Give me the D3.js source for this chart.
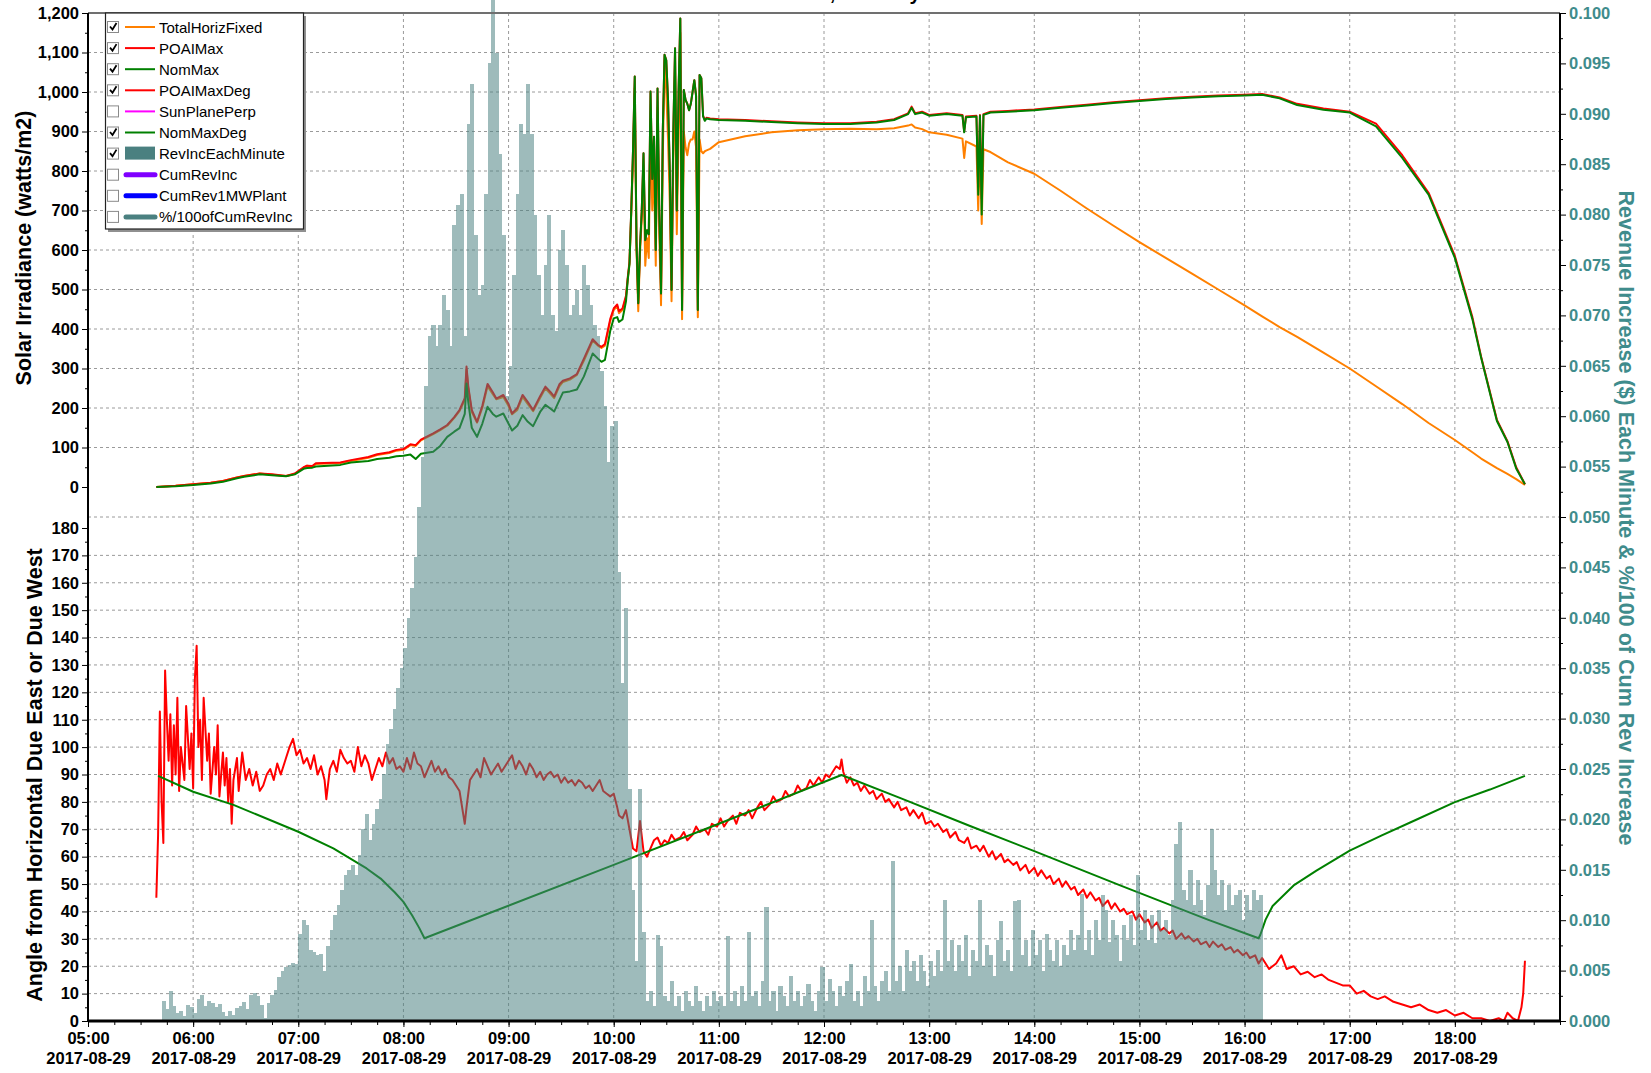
<!DOCTYPE html>
<html>
<head>
<meta charset="utf-8">
<script src="https://cdn.jsdelivr.net/npm/d3@7"></script>
<style>
  body { margin: 0; background: #fff; }
  svg text { font-family: "Liberation Sans", Arial, sans-serif; }
</style>
</head>
<body>
<svg id="chart" width="1651" height="1073"></svg>
<script>
var day = "2017-08-29";

// top panel, irradiance (watts/m2)
var irrTimes = ["05:39","05:50","06:00","06:10","06:17","06:25","06:29","06:38","06:45","06:53",
  "06:58","07:03","07:05","07:08","07:10","07:24","07:30","07:40","07:45","07:52",
  "07:56","08:00","08:04","08:07","08:10","08:17","08:21","08:25","08:29","08:32",
  "08:35","08:36","08:37","08:39","08:42","08:45","08:48","08:51","08:53","08:57",
  "09:00","09:02","09:05","09:08","09:11","09:14","09:18","09:21","09:24","09:26",
  "09:29","09:31","09:35","09:39","09:43","09:48","09:51","09:53","09:55","09:58",
  "10:00","10:02","10:03","10:05","10:07","10:08","10:09","10:10","10:11","10:12",
  "10:13","10:14","10:15","10:16","10:17","10:18","10:19","10:20","10:21","10:22",
  "10:23","10:24","10:25","10:26","10:27","10:28","10:29","10:30","10:31","10:32",
  "10:33","10:34","10:35","10:36","10:37","10:38","10:39","10:40","10:41","10:42",
  "10:43","10:44","10:45","10:46","10:47","10:48","10:49","10:50","10:51","10:52",
  "10:53","10:55","11:00","11:15","11:30","11:45","12:00","12:15","12:30","12:40",
  "12:48","12:50","12:52","12:56","13:00","13:10","13:19","13:20","13:21","13:27",
  "13:28","13:29","13:30","13:31","13:35","13:45","14:00","14:15","14:30","14:45",
  "15:00","15:15","15:30","15:45","16:00","16:10","16:20","16:30","16:45","17:00",
  "17:15","17:30","17:45","18:00","18:10","18:15","18:24","18:30","18:35","18:40"];

var totalHorizFixed = [0,3,7,11,15,24,28,34,31,28,
  33,48,54,52,58,61,66,74,81,86,
  92,94,106,104,118,134,144,155,175,192,
  220,298,250,190,163,200,255,235,222,228,
  205,184,195,228,210,192,225,250,235,225,
  255,266,272,284,320,370,358,352,358,420,
  448,458,440,448,480,525,565,690,820,1010,
  600,445,590,680,790,560,630,580,930,700,
  800,560,960,640,460,830,1080,1000,880,720,
  470,820,1050,640,880,1150,425,900,860,840,
  870,880,880,900,860,430,880,850,845,850,
  852,856,873,888,898,903,906,907,906,908,
  915,918,910,906,898,892,882,833,875,862,
  700,858,666,855,848,822,793,750,705,662,
  620,580,540,500,460,432,405,380,340,300,
  255,210,162,119,88,72,48,33,20,5];

var poaiMax = [0,3,7,11,15,24,28,34,32,28,
  34,50,54,53,60,62,68,76,83,88,
  94,96,108,106,120,136,146,157,177,195,
  225,305,255,195,165,205,261,240,224,233,
  210,186,200,233,215,195,230,254,240,229,
  260,269,275,286,325,374,360,355,362,425,
  452,462,445,452,484,530,570,700,850,1039,
  620,465,608,700,845,625,650,640,1001,780,
  887,600,1009,700,490,900,1094,1080,980,800,
  499,900,1111,700,1000,1186,448,1005,980,970,
  954,970,1000,1030,990,448,1043,1035,940,929,
  935,933,931,929,926,923,921,921,925,931,
  946,963,946,950,942,946,942,900,938,940,
  760,942,730,944,950,952,956,962,968,974,
  979,984,988,991,993,995,986,970,958,950,
  920,840,745,585,430,330,170,116,50,7];

var nomMax = [0,2,5,9,13,22,26,32,30,27,
  32,46,48,49,52,56,62,66,71,74,
  78,79,82,71,84,89,104,127,140,149,
  185,262,215,150,127,160,203,185,178,186,
  160,143,155,182,165,154,190,208,198,191,
  220,239,242,247,280,338,325,317,322,395,
  427,430,418,424,470,525,565,700,850,1039,
  620,465,608,700,845,625,650,640,1001,780,
  887,600,1009,700,490,900,1094,1080,980,800,
  499,900,1111,700,1000,1186,448,1005,980,970,
  954,970,1000,1030,990,448,1043,1035,938,927,
  933,931,929,927,924,921,919,919,923,929,
  944,960,944,948,940,944,940,898,936,938,
  740,940,690,942,948,950,954,960,966,972,
  977,982,986,989,991,993,984,967,955,948,
  913,833,740,580,425,327,167,114,47,7];

// bottom panel, angle (degrees)
var degTimes = ["05:39","05:40","05:41","05:42","05:43","05:44","05:45","05:46","05:47","05:48",
  "05:49","05:50","05:51","05:52","05:53","05:55","05:56","05:58","05:59","06:00",
  "06:01","06:02","06:03","06:04","06:05","06:06","06:08","06:09","06:10","06:12",
  "06:13","06:14","06:15","06:17","06:18","06:19","06:20","06:21","06:22","06:23",
  "06:25","06:26","06:28","06:30","06:32","06:34","06:36","06:38","06:40","06:42",
  "06:44","06:46","06:48","06:50","06:53","06:55","06:57","06:59","07:01","07:03",
  "07:05","07:07","07:09","07:11","07:13","07:15","07:16","07:18","07:20","07:22",
  "07:24","07:26","07:28","07:30","07:32","07:34","07:36","07:38","07:40","07:42",
  "07:44","07:46","07:48","07:50","07:52","07:54","07:56","07:58","08:00","08:02",
  "08:04","08:06","08:08","08:10","08:12","08:14","08:16","08:18","08:20","08:22",
  "08:24","08:26","08:28","08:30","08:32","08:34","08:35","08:36","08:38","08:40",
  "08:42","08:44","08:46","08:48","08:50","08:52","08:54","08:56","08:58","09:00",
  "09:02","09:04","09:06","09:08","09:10","09:12","09:14","09:16","09:18","09:20",
  "09:22","09:24","09:26","09:28","09:30","09:32","09:34","09:36","09:38","09:40",
  "09:42","09:44","09:46","09:48","09:50","09:52","09:54","09:56","09:58","10:00",
  "10:02","10:03","10:05","10:07","10:09","10:11","10:13","10:15","10:17","10:19",
  "10:21","10:23",
  "10:25","10:27","10:29","10:31","10:33","10:35","10:38","10:40","10:42","10:45",
  "10:47","10:49","10:52","10:54","10:56","10:59","11:01","11:03","11:05","11:08",
  "11:10","11:12","11:15","11:17","11:19","11:22","11:24","11:26","11:29","11:31",
  "11:33","11:36","11:38","11:40","11:43","11:45","11:47","11:50","11:52","11:54",
  "11:57","11:59","12:01","12:03","12:05","12:07","12:09","12:10","12:11","12:13",
  "12:15","12:17","12:19","12:21","12:23","12:26","12:28","12:30","12:33","12:35",
  "12:37","12:40","12:42","12:44","12:47","12:49","12:51","12:54","12:56","12:58",
  "13:01","13:03","13:05","13:08","13:10","13:12","13:15","13:17","13:20","13:22",
  "13:24","13:27","13:29","13:31","13:34","13:36","13:38","13:41","13:43","13:45",
  "13:48","13:50","13:52","13:55","13:57","14:00","14:02","14:04","14:07","14:09",
  "14:11","14:14","14:16","14:18","14:21","14:23","14:25","14:28","14:30","14:32",
  "14:35","14:37","14:39","14:42","14:44","14:46","14:49","14:51","14:53","14:56",
  "14:58","15:00","15:03","15:05","15:07","15:10","15:12","15:14","15:17","15:19",
  "15:21","15:24","15:26","15:28","15:31","15:33","15:35","15:38","15:40","15:42",
  "15:45","15:47","15:49","15:52","15:54","15:56","15:59","16:01","16:03","16:06",
  "16:08","16:10","16:14","16:18","16:21","16:24","16:28","16:32","16:36","16:40",
  "16:44","16:48","16:52","16:56","17:00","17:04","17:08","17:12","17:16","17:20",
  "17:25","17:30","17:35","17:40","17:45","17:50","17:55","18:00","18:05","18:10",
  "18:15","18:20","18:25","18:28","18:30","18:33","18:36","18:38","18:39","18:40"];

var poaiMaxDeg = [45,68,113,80,65,128,110,95,112,86,
  108,90,118,84,100,88,115,92,105,85,
  125,137,100,110,88,118,95,105,83,100,
  90,108,82,98,86,96,80,92,72,88,
  96,84,98,88,92,86,91,84,86,90,
  92,88,94,90,96,100,103,97,99,94,
  96,92,97,90,93,88,81,92,95,91,
  99,96,94,95,91,100,93,97,94,88,
  92,96,93,98,94,96,92,93,91,96,
  92,98,94,93,89,92,95,91,93,90,
  92,89,88,86,84,76,72,78,88,90,
  92,89,96,93,90,92,94,91,93,95,
  97,92,95,93,90,94,92,89,91,88,
  90,91,89,90,87,89,87,88,86,88,
  87,85,86,84,86,88,84,83,82,83,
  78,75,74,77,70,63,62,73,62,60,
  63,66,
  67,64,66,65,68,66,67,69,66,68,
  71,69,70,68,72,71,74,71,73,75,
  72,76,75,77,74,78,80,77,79,82,
  80,81,84,82,83,86,84,85,88,86,
  89,87,90,89,91,93,92,95.5,91,87,
  89,86,87,84,86,83,84,81,83,80,
  81,78,80,77,78,75,77,74,76,72,
  73,71,72,69,70,67,69,66,65,67,
  63,64,62,64,60,62,59,61,58,59,
  57,58,55,57,54,56,53,55,52,53,
  50,52,49,51,48,49,46,48,45,47,
  44,45,42,44,41,43,40,41,39,40,
  37,39,36,37,34,36,33,34,32,33,
  30,32,30,31,29,30,28,29,27,29,
  27,28,26,27,25,26,24,25,23,24,
  21,23,19,21,24,19,20,17,18,16,
  17,15,14,13,13,10,11,9,8,9,
  7,6,5,6,4,3,4,2,3,1,
  1,0,1,0,3,1,0,5,10,22];

var nomDegTimes = ["05:40","06:00","06:23","07:00","07:20","07:39","07:47","07:55","08:00","08:05",
  "08:09","08:12","10:00","11:00","12:10","12:44","13:23","14:00","14:49","15:39",
  "16:08","16:09","16:12","16:16","16:28","16:41","17:00","17:18","17:37","18:00",
  "18:20","18:40"];
var nomMaxDeg = [89.5,83.7,78.9,69.1,63,55.7,52,47,43.5,38.5,
  34,30.2,57,72,89.8,81.3,71.3,62,49.5,37,
  30.2,31.5,37,42,49.5,54.9,62.2,67.7,73.2,79.9,
  84.5,89.5];

// RevIncEachMinute, thousandths of $, one value per 2-minute bin from 05:42
var barStart = "05:42";
var barStep = 2;
var revIncMilli = [
  2.0,1.2,3.0,1.5,0.8,1.0,0.5,1.6,1.4,
  0.8,2.2,2.6,1.5,2.0,1.8,1.4,1.7,0.9,0.5,1.0,0.6,1.3,1.5,1.9,1.2,2.6,2.8,2.5,1.6,0.3,1.8,2.6,3.1,4.4,5.0,5.4,5.6,5.8,5.7,
  8.6,10.0,9.5,7.0,6.8,6.5,6.6,5.0,7.4,9.0,10.5,11.5,13.0,14.5,15.0,15.5,14.5,16.5,19.0,20.5,18.0,19.5,21.0,22.0,24.5,27.5,29.0,31.0,33.0,35.0,
  37,40,43,46,51,56,63,68,69,67,69,72,70.5,67,79,81,82,68,89,93,78,72,73,82,95,102,96,86,78,62,
  65,74,82,89,88,93,88,80,74,70,75,80,70,68.5,76.5,78.5,75,70,71,72.5,70,75,73,71,69,68,64.5,61,55.5,59,
  59.5,44.5,33.5,41,23,13,6,23,8.8,2,3,1.5,8.5,7.4,2.5,2,4,1.5,2.5,1,3,2,1.5,3.5,2,1,2.5,1.5,3,2,
  2.5,1.5,8.4,2.0,3.0,1.5,3.5,2.0,8.8,2.5,3.0,1.5,4.0,11.3,2.0,3.0,1.0,3.5,2.5,1.5,4.5,2.0,3.0,1.5,2.5,3.7,2.0,1.0,3.0,5.4,
  2.0,4.2,3.0,1.5,3.5,2.5,4.0,5.7,2.0,3.0,1.5,4.5,3.0,10.0,3.5,2.0,4.0,5.0,3.0,15.9,4.0,5.5,3.0,7.0,5.0,6.0,4.0,6.5,5.0,3.5,
  6.0,4.5,7.0,5.0,12.0,6.0,8.0,5.0,7.5,6.0,8.5,4.5,7.0,6.0,12.0,5.5,7.5,6.5,4.5,8.0,9.9,6.0,7.0,5.0,11.9,12.0,6.5,8.0,5.5,9.0,
  6.5,8.0,5.0,8.6,7.0,6.0,8.0,5.5,7.5,6.5,9.0,7.0,8.5,12.6,7.0,9.0,6.5,10.0,8.0,12.5,11.0,7.8,10.0,8.5,6.0,9.5,8.0,10.5,7.5,14.5,
  9.0,11.0,8.0,10.5,7.7,11.0,9.0,10.0,8.5,12.0,17.6,19.7,13.0,12.0,15.0,11.5,14.0,12.0,10.5,13.5,19.0,15.0,12.5,14.0,11.0,13.5,11.5,12.5,13.0,10.0,
  12.5,11.0,13.0,12.0,12.5];

var irrTicks = d3.range(0, 1201, 100);
var angTicks = d3.range(0, 181, 10);
var revTicks = d3.range(0, 21).map(function(i){ return i * 0.005; });

var legendNames = ["TotalHorizFixed","POAIMax","NomMax","POAIMaxDeg","SunPlanePerp","NomMaxDeg","RevIncEachMinute","CumRevInc","CumRev1MWPlant","%/100ofCumRevInc"];
var legendColors = ["#ff8000","#ff0000","#008000","#ff0000","#ff00ff","#008000","#4a8080","#8000ff","#0000ff","#4a8080"];
var legendChecked = [1,1,1,1,0,1,1,0,0,0];
var legendKind = ["line","line","line","line","line","line","box","thick","thick","thick"];

var parseT = d3.timeParse("%Y-%m-%d %H:%M");
function tm(s){ return parseT(day + " " + s); }

var L = 88, R = 1560, T = 13, B = 1021;
var teal = "#3f8c8c";

var svg = d3.select("#chart");

var x = d3.scaleTime().domain([tm("05:00"), tm("19:00")]).range([L, R]);
var yIrr = d3.scaleLinear().domain([0, 1200]).range([487, T]);
var yAng = d3.scaleLinear().domain([0, 180]).range([B, 528]);
var yRev = d3.scaleLinear().domain([0, 0.1]).range([B, T]);

// title, mostly off the top of the picture (as in the original screenshot)
svg.append("text").attr("x", (L + R) / 2).attr("y", 0)
  .attr("text-anchor", "middle").style("font-size", "20px").style("font-weight", "bold")
  .text(day + ", Tuesday");

// grid
var grid = svg.append("g").attr("stroke", "#9a9a9a").attr("stroke-dasharray", "3,3").attr("stroke-width", 1);
irrTicks.filter(function(d){ return d > 0 && d < 1200; }).forEach(function(d){
  grid.append("line").attr("x1", L).attr("x2", R).attr("y1", yIrr(d)).attr("y2", yIrr(d));
});
angTicks.filter(function(d){ return d > 0 && d < 180; }).forEach(function(d){
  grid.append("line").attr("x1", L).attr("x2", R).attr("y1", yAng(d)).attr("y2", yAng(d));
});
grid.append("line").attr("x1", L).attr("x2", R).attr("y1", yRev(0.05)).attr("y2", yRev(0.05));
d3.range(6, 19).forEach(function(h){
  var xx = x(tm((h < 10 ? "0" : "") + h + ":00"));
  grid.append("line").attr("x1", xx).attr("x2", xx).attr("y1", T).attr("y2", B);
});

// lines
function drawLine(times, vals, yScale, color){
  var pts = times.map(function(t, i){ return [tm(t), vals[i]]; });
  svg.append("path").datum(pts)
    .attr("fill", "none").attr("stroke", color).attr("stroke-width", 2)
    .attr("stroke-linejoin", "round")
    .attr("d", d3.line().x(function(d){ return x(d[0]); }).y(function(d){ return yScale(d[1]); }));
}
drawLine(irrTimes, totalHorizFixed, yIrr, "#ff8000");
drawLine(irrTimes, poaiMax, yIrr, "#ff0000");
drawLine(irrTimes, nomMax, yIrr, "#008000");
drawLine(degTimes, poaiMaxDeg, yAng, "#ff0000");
drawLine(nomDegTimes, nomMaxDeg, yAng, "#008000");

// bars on top, half transparent
var t0 = tm(barStart);
function binT(i){ return d3.timeMinute.offset(t0, i * barStep); }
svg.append("g").attr("opacity", 0.53)
  .selectAll("rect").data(revIncMilli).enter().append("rect")
    .attr("x", function(d, i){ return x(binT(i)); })
    .attr("width", function(d, i){ return x(binT(i + 1)) - x(binT(i)) + 0.6; })
    .attr("y", function(d){ return yRev(d / 1000); })
    .attr("height", function(d){ return B - yRev(d / 1000); })
    .attr("fill", "#4a8080")
    .attr("shape-rendering", "crispEdges");

// frame
svg.append("line").attr("x1", L).attr("x2", R).attr("y1", T).attr("y2", T).attr("stroke", "#707070").attr("stroke-width", 2);
svg.append("line").attr("x1", L).attr("x2", L).attr("y1", T).attr("y2", B + 1).attr("stroke", "#000").attr("stroke-width", 2);
svg.append("line").attr("x1", R).attr("x2", R).attr("y1", T).attr("y2", B + 1).attr("stroke", "#000").attr("stroke-width", 2);
svg.append("line").attr("x1", L).attr("x2", R + 1).attr("y1", B).attr("y2", B).attr("stroke", "#000").attr("stroke-width", 3);

function styleAxis(g, color){
  g.select(".domain").remove();
  g.selectAll("line").attr("stroke", "#000");
  g.selectAll("text").attr("fill", color).style("font-size", "16.5px").style("font-weight", "bold");
}

// left axes
var gIrr = svg.append("g").attr("transform", "translate(" + L + ",0)")
  .call(d3.axisLeft(yIrr).tickValues(irrTicks).tickSize(6).tickPadding(3).tickFormat(d3.format(",")));
styleAxis(gIrr, "#000");
svg.append("g").attr("transform", "translate(" + L + ",0)")
  .call(d3.axisLeft(yIrr).tickValues(d3.range(50, 1200, 100)).tickSize(3).tickFormat(""))
  .call(function(g){ g.select(".domain").remove(); });

var gAng = svg.append("g").attr("transform", "translate(" + L + ",0)")
  .call(d3.axisLeft(yAng).tickValues(angTicks).tickSize(6).tickPadding(3));
styleAxis(gAng, "#000");
svg.append("g").attr("transform", "translate(" + L + ",0)")
  .call(d3.axisLeft(yAng).tickValues(d3.range(5, 180, 10)).tickSize(3).tickFormat(""))
  .call(function(g){ g.select(".domain").remove(); });

// right axis
var gRev = svg.append("g").attr("transform", "translate(" + R + ",0)")
  .call(d3.axisRight(yRev).tickValues(revTicks).tickSize(6).tickPadding(3).tickFormat(d3.format(".3f")));
styleAxis(gRev, teal);
svg.append("g").attr("transform", "translate(" + R + ",0)")
  .call(d3.axisRight(yRev).tickValues(d3.range(0, 20).map(function(i){ return i * 0.005 + 0.0025; })).tickSize(3).tickFormat(""))
  .call(function(g){ g.select(".domain").remove(); });

// bottom axis
var hourTicks = d3.range(5, 19).map(function(h){ return tm((h < 10 ? "0" : "") + h + ":00"); });
var gx = svg.append("g").attr("transform", "translate(0," + B + ")")
  .call(d3.axisBottom(x).tickValues(hourTicks).tickSize(6).tickFormat(d3.timeFormat("%H:%M")));
styleAxis(gx, "#000");
var fmtDay = d3.timeFormat("%Y-%m-%d");
gx.selectAll(".tick text").each(function(d){
  var t = d3.select(this);
  t.text(null).attr("y", 23).attr("dy", null);
  t.append("tspan").attr("x", 0).text(d3.timeFormat("%H:%M")(d));
  t.append("tspan").attr("x", 0).attr("dy", 20).text(fmtDay(d));
});
svg.append("g").attr("transform", "translate(0," + B + ")")
  .call(d3.axisBottom(x).ticks(d3.timeMinute.every(15)).tickSize(4).tickFormat(""))
  .call(function(g){ g.select(".domain").remove(); g.selectAll("line").attr("stroke", "#000"); });

// axis titles
svg.append("text").attr("transform", "translate(24,248) rotate(-90)")
  .attr("text-anchor", "middle").attr("dominant-baseline", "central")
  .style("font-size", "21.5px").style("font-weight", "bold")
  .text("Solar Irradiance (watts/m2)");
svg.append("text").attr("transform", "translate(35,775) rotate(-90)")
  .attr("text-anchor", "middle").attr("dominant-baseline", "central")
  .style("font-size", "21.5px").style("font-weight", "bold")
  .text("Angle from Horizontal Due East or Due West");
svg.append("text").attr("transform", "translate(1626,518) rotate(90)")
  .attr("text-anchor", "middle").attr("dominant-baseline", "central")
  .attr("fill", teal)
  .style("font-size", "21.5px").style("font-weight", "bold")
  .text("Revenue Increase ($) Each Minute & %/100 of Cum Rev Increase");

// legend
var lg = svg.append("g");
lg.append("rect").attr("x", 108).attr("y", 16).attr("width", 198).attr("height", 216).attr("fill", "#909090");
lg.append("rect").attr("x", 105.5).attr("y", 13).attr("width", 198).attr("height", 216)
  .attr("fill", "#fff").attr("stroke", "#222").attr("stroke-width", 1.2);
legendNames.forEach(function(name, i){
  var cy = 27 + i * 21.1;
  var row = lg.append("g");
  row.append("rect").attr("x", 107.5).attr("y", cy - 5.5).attr("width", 11).attr("height", 11)
    .attr("fill", "#fff").attr("stroke", "#8a8a8a");
  if (legendChecked[i]) {
    row.append("path").attr("d", "M110," + (cy - 0.5) + " l2.5,3 l4,-6.5")
      .attr("fill", "none").attr("stroke", "#000").attr("stroke-width", 1.8);
  }
  if (legendKind[i] == "line") {
    row.append("line").attr("x1", 125).attr("x2", 155).attr("y1", cy).attr("y2", cy)
      .attr("stroke", legendColors[i]).attr("stroke-width", 2);
  } else if (legendKind[i] == "box") {
    row.append("rect").attr("x", 125).attr("y", cy - 7).attr("width", 30).attr("height", 13)
      .attr("fill", legendColors[i]);
  } else {
    row.append("line").attr("x1", 126).attr("x2", 155).attr("y1", cy).attr("y2", cy)
      .attr("stroke", legendColors[i]).attr("stroke-width", 5).attr("stroke-linecap", "round");
  }
  row.append("text").attr("x", 159).attr("y", cy).attr("dominant-baseline", "central")
    .style("font-size", "15px").text(name);
});
</script>
</body>
</html>
